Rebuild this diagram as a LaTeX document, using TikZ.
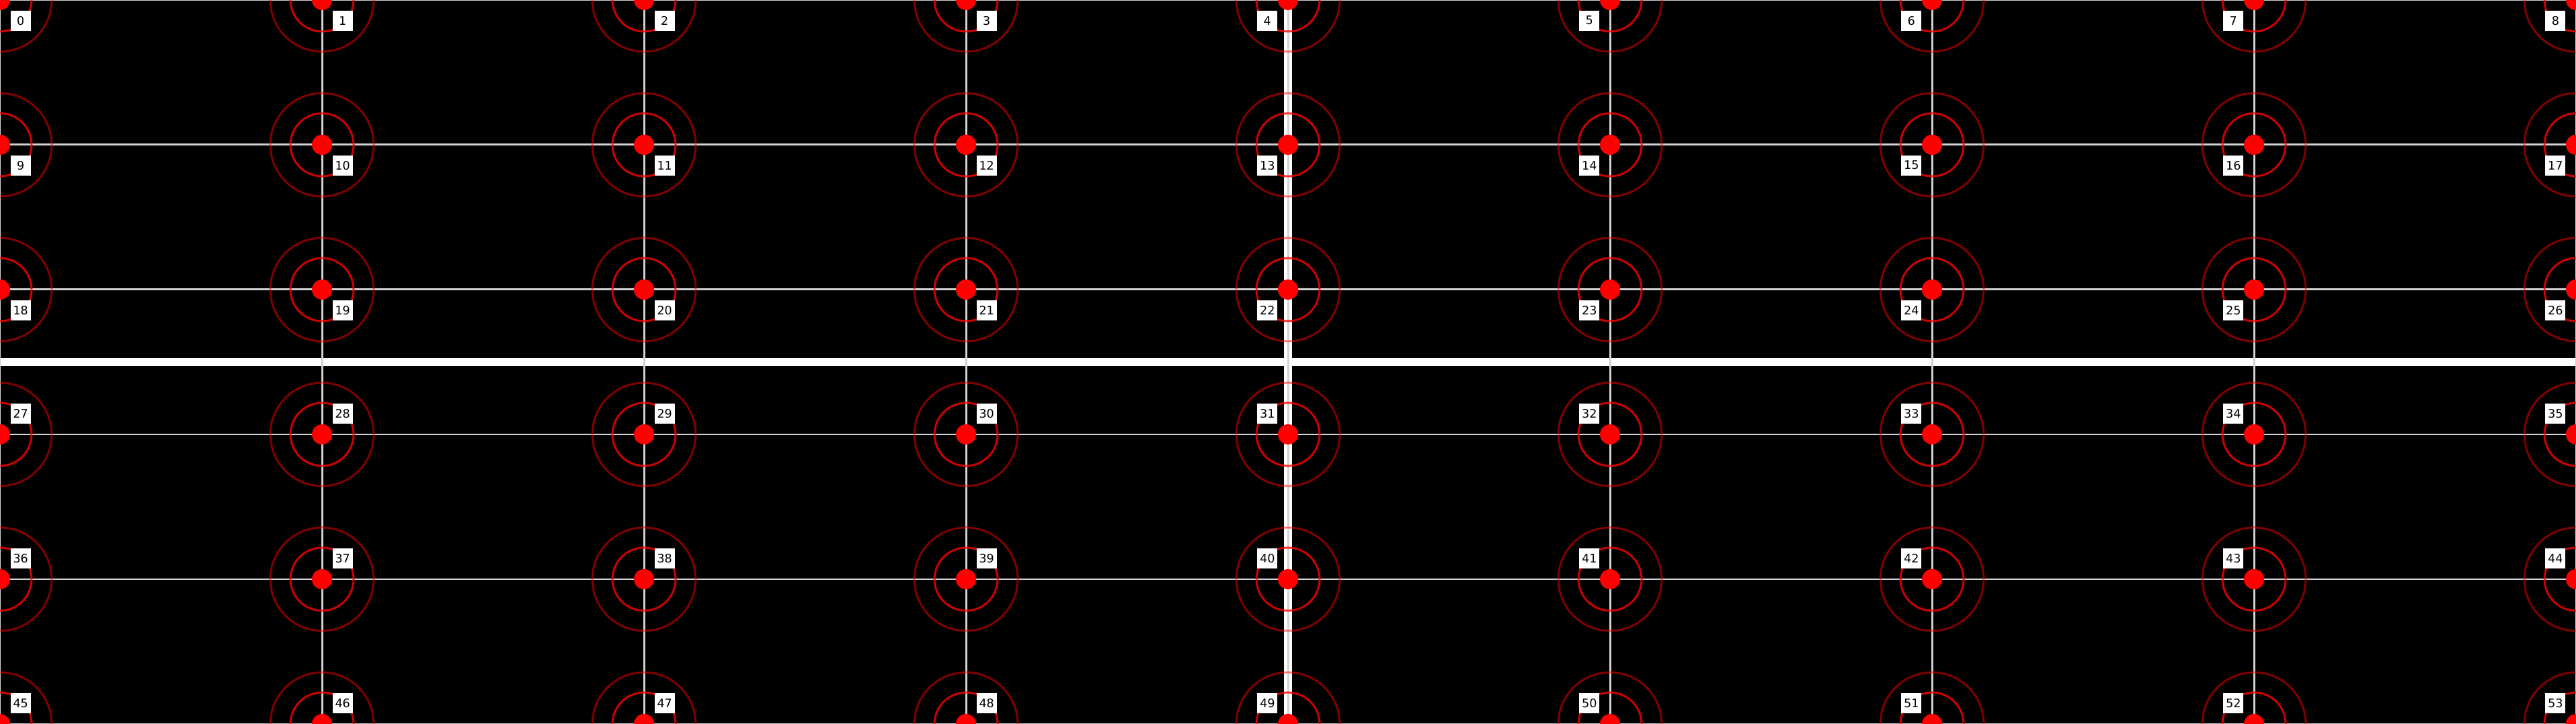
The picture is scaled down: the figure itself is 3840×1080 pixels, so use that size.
\documentclass[tikz,border=0pt]{standalone}
\usepackage{fontspec}
\setmainfont{DejaVu Sans}
\definecolor{gridgrey}{RGB}{211,211,211}
\begin{document}
\begin{tikzpicture}[x=0.01cm,y=-0.01cm,
  gridline/.style={draw=gridgrey,line width=0.85pt},
  bigline/.style={draw=white,line width=3.3pt},
  ringin/.style={draw=red,draw opacity=0.8,line width=0.85pt},
  ringout/.style={draw=red,draw opacity=0.5,line width=0.85pt},
  dotnode/.style={circle,fill=red,minimum size=0.3cm,inner sep=0pt},
  lbl/.style={fill=white,text=black,minimum size=0.3cm,inner sep=0pt,font=\fontsize{5}{6}\selectfont}]
\fill[black] (0,0) rectangle (3840,1080);
\useasboundingbox (0,0) rectangle (3840,1080);
% points
\foreach \r in {0,...,5}{
  \foreach \c in {0,...,8}{
    \pgfmathtruncatemacro\n{\r*9+\c}
    \coordinate (p\n) at (\c*480,\r*216);
  }
}
\coordinate (hl) at (0,540);
\coordinate (hr) at (3840,540);
% thick white lines
\draw[bigline] (hl) -- (hr);
\draw[bigline] (p4) -- (p49);
% grid lines
\foreach \a/\b in {0/8,9/17,18/26,27/35,36/44,45/53}{
  \draw[gridline] (p\a) -- (p\b);
}
\foreach \a/\b in {0/45,1/46,2/47,3/48,4/49,5/50,6/51,7/52,8/53}{
  \draw[gridline] (p\a) -- (p\b);
}
% targets
\foreach \r in {0,...,5}{
  \foreach \c in {0,...,8}{
    \pgfmathtruncatemacro\n{\r*9+\c}
    \draw[ringout] (p\n) circle[radius=0.77cm];
    \draw[ringin] (p\n) circle[radius=0.47cm];
    \node[dotnode] (d\n) at (p\n) {};
  }
}
% labels
\foreach \r in {0,...,5}{
  \foreach \c in {0,...,8}{
    \pgfmathtruncatemacro\n{\r*9+\c}
    \ifnum\r<3
      \ifnum\c<4
        \node[lbl,anchor=north west] (l\n) at ([shift={(15,15)}]p\n) {\n};
      \else
        \node[lbl,anchor=north east] (l\n) at ([shift={(-15,15)}]p\n) {\n};
      \fi
    \else
      \ifnum\c<4
        \node[lbl,anchor=south west] (l\n) at ([shift={(15,-15)}]p\n) {\n};
      \else
        \node[lbl,anchor=south east] (l\n) at ([shift={(-15,-15)}]p\n) {\n};
      \fi
    \fi
  }
}
\end{tikzpicture}
\end{document}
